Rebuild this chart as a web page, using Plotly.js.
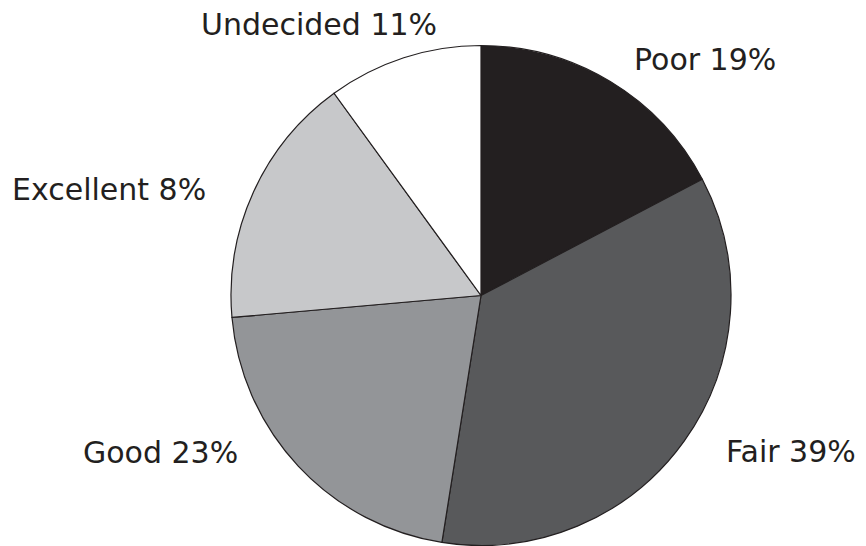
<!DOCTYPE html>
<html>
<head>
<meta charset="utf-8">
<script src="https://cdn.plot.ly/plotly-3.0.1.min.js"></script>
<style>html,body{margin:0;padding:0;background:#fff;}#chart{width:866px;height:546px;}</style>
</head>
<body>
<div id="chart"></div>
<script>
// Categories (clockwise from 12 o'clock)
var categories = ["Poor", "Fair", "Good", "Excellent", "Undecided"];
// Slice sizes as drawn in the picture (percent of circle)
var sliceValues = [17.3, 35.2, 21.1, 16.4, 10.0];
// Percentages printed in the labels
var labelPct = [19, 39, 23, 8, 11];
var colors = ["#231f20", "#58595b", "#939598", "#c7c8ca", "#ffffff"];

var W = 866, H = 546;
// label placement (pixel: left edge, vertical centre of caps)
var labelPos = {
  "Poor": [632, 59],
  "Fair": [724, 451.5],
  "Good": [81, 452.5],
  "Excellent": [10, 189.5],
  "Undecided": [199, 24.5]
};

var cx = 481, cy = 295.5, r = 250;

var trace = {
  type: "pie",
  labels: categories,
  values: sliceValues,
  sort: false,
  direction: "clockwise",
  rotation: 0,
  textinfo: "none",
  hoverinfo: "label+percent",
  marker: {colors: colors, line: {color: "#231f20", width: 1.2}},
  domain: {
    x: [(cx - r) / W, (cx + r) / W],
    y: [1 - (cy + r) / H, 1 - (cy - r) / H]
  },
  showlegend: false
};

var annotations = categories.map(function (c, i) {
  var p = labelPos[c];
  return {
    text: c + " " + labelPct[i] + "%",
    xref: "paper", yref: "paper",
    x: p[0] / W, y: 1 - p[1] / H,
    xanchor: "left", yanchor: "middle",
    showarrow: false,
    font: {family: "DejaVu Sans", size: 30, color: "#231f20"}
  };
});

var layout = {
  width: W, height: H,
  margin: {l: 0, r: 0, t: 0, b: 0},
  paper_bgcolor: "#ffffff",
  plot_bgcolor: "#ffffff",
  showlegend: false,
  annotations: annotations
};

Plotly.newPlot("chart", [trace], layout, {displayModeBar: false, staticPlot: true});
</script>
</body>
</html>
